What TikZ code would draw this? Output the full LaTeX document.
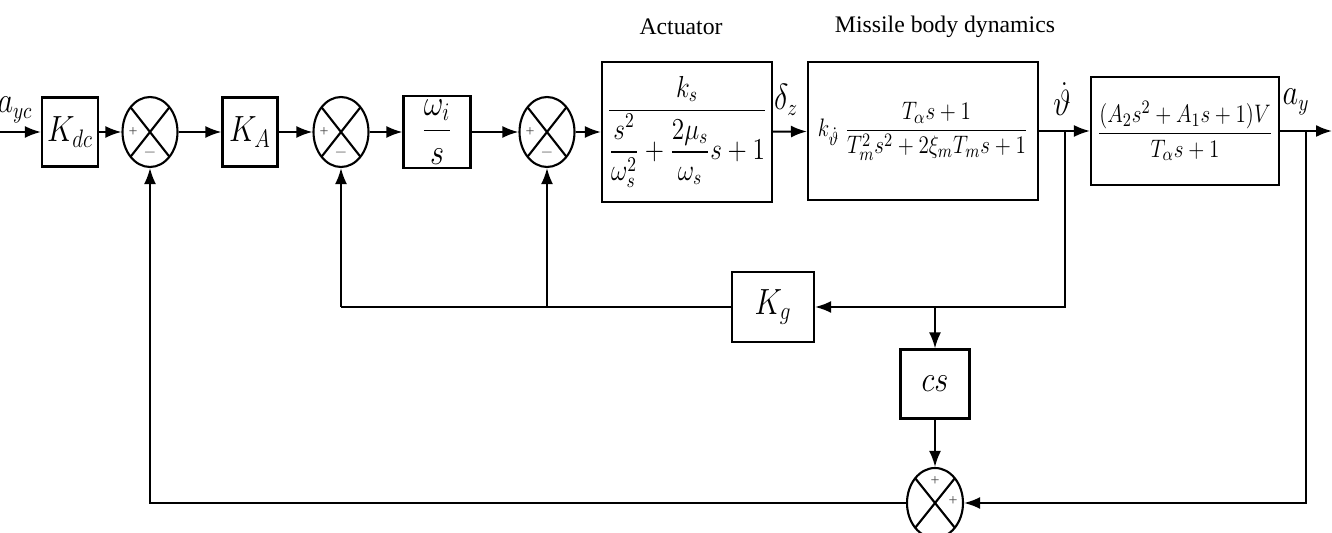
\documentclass[tikz,border=0pt]{standalone}
\usepackage{amsmath}
\usepackage{graphicx}
\usepackage{fontspec}
\setmainfont{Liberation Serif}
\usetikzlibrary{positioning,arrows.meta,shapes.geometric,calc}
\newcommand{\vstretch}[1]{\scalebox{1}[1.2]{$#1$}}
\tikzset{
  sigarrow/.style={-{Latex[length=3.2mm, width=2.4mm]}, line width=1.2pt},
  sigline/.style={line width=1.2pt},
  blockbox/.style={draw, line width=1.2pt, inner sep=0pt, align=center},
  sumnode/.style={draw, ellipse, line width=1.2pt, minimum width=1.1cm, minimum height=1.4cm, inner sep=0pt,
    path picture={\draw[line width=1.2pt] (path picture bounding box.north west) -- (path picture bounding box.south east)
      (path picture bounding box.north east) -- (path picture bounding box.south west);}},
  signlabel/.style={font=\small, text=black!70, inner sep=0pt},
  siglabel/.style={inner sep=1pt, font=\fontsize{16}{18}\selectfont},
  bigmath/.style={font=\fontsize{17}{19}\selectfont},
  headlabel/.style={font=\fontsize{13.5}{16}\selectfont}
}

\begin{document}
\begin{tikzpicture}[x=0.02cm, y=-0.02cm, every node/.style={font=\fontsize{13}{15}\selectfont}]
  \useasboundingbox (0,0) rectangle (1332,533);
  % forward path
  \coordinate (in) at (0,132);
  \node[blockbox, bigmath, minimum width=1.12cm, minimum height=1.38cm] (kdc) at (70,132) {\vstretch{K_{dc}}};
  \node[sumnode] (s1) at (150,132) {};
  \node[blockbox, bigmath, minimum width=1.1cm, minimum height=1.38cm] (ka) at (250,132) {\vstretch{K_A}};
  \node[sumnode] (s2) at (341,132) {};
  \node[blockbox, bigmath, minimum width=1.34cm, minimum height=1.44cm] (wi) at (437,132) {\vstretch{\dfrac{\omega_i}{s}}};
  \node[sumnode] (s3) at (547,132) {};
  \node[blockbox, font=\fontsize{14.5}{17}\selectfont, minimum width=3.4cm, minimum height=2.8cm] (act) at (687,132)
    {\vstretch{\dfrac{k_s}{\dfrac{s^2}{\omega_s^2}+\dfrac{2\mu_s}{\omega_s}s+1}}};
  \node[blockbox, font=\fontsize{13.2}{16}\selectfont, minimum width=4.6cm, minimum height=2.76cm] (body) at (923,131)
    {\vstretch{k_{\dot\vartheta}\;\dfrac{T_\alpha s+1}{T_m^2s^2+2\xi_mT_ms+1}}};
  \node[blockbox, font=\fontsize{13.2}{16}\selectfont, minimum width=3.76cm, minimum height=2.16cm] (out) at (1185,131)
    {\vstretch{\dfrac{(A_2s^2+A_1s+1)V}{T_\alpha s+1}}};
  \coordinate (outend) at (1332,131);
  % feedback blocks
  \node[blockbox, bigmath, minimum width=1.64cm, minimum height=1.4cm] (kg) at (773,307) {\vstretch{K_g}};
  \node[blockbox, bigmath, minimum width=1.38cm, minimum height=1.38cm] (cs) at (935,384) {\vstretch{cs}};
  \node[sumnode, minimum width=1.12cm, minimum height=1.4cm] (s4) at (935,503) {};
  % headings and signal names
  \node[headlabel] (acttitle) at (681,27) {Actuator};
  \node[headlabel] (bodytitle) at (945,27) {Missile body dynamics};
  \node[siglabel] (ayc) at (15,110) {\vstretch{a_{yc}}};
  \node[siglabel] (dz) at (786,100) {\vstretch{\delta_z}};
  \node[siglabel] (thd) at (1062,99) {\vstretch{\dot\vartheta}};
  \node[siglabel] (ay) at (1296,102) {\vstretch{a_y}};
  % signs
  \node[signlabel] (p1) at (133,132) {+};
  \node[signlabel] (m1) at (150,153) {$-$};
  \node[signlabel] (p2) at (324,132) {+};
  \node[signlabel] (m2) at (341,153) {$-$};
  \node[signlabel] (p3) at (530,132) {+};
  \node[signlabel] (m3) at (547,153) {$-$};
  \node[signlabel] (p4) at (935,481) {+};
  \node[signlabel] (p5) at (953,501) {+};
  % connections
  \coordinate (tb) at (1065,131);
  \coordinate (ab) at (1306,131);
  \draw[sigarrow] (in) -- (kdc);
  \draw[sigarrow] (kdc) -- (s1);
  \draw[sigarrow] (s1) -- (ka);
  \draw[sigarrow] (ka) -- (s2);
  \draw[sigarrow] (s2) -- (wi);
  \draw[sigarrow] (wi) -- (s3);
  \draw[sigarrow] (s3) -- (act);
  \draw[sigarrow] (act) -- (body);
  \draw[sigarrow] (body) -- (out);
  \draw[sigarrow] (out) -- (outend);
  \draw[sigarrow] (tb) |- (kg);
  \draw[sigline] (kg.west) -- (s2 |- kg.west) coordinate (kgl);
  \draw[sigarrow] (kgl) -- (s2);
  \draw[sigarrow] (s3 |- kg.west) -- (s3);
  \draw[sigarrow] (cs |- kg.east) -- (cs);
  \draw[sigarrow] (cs) -- (s4);
  \draw[sigarrow] (ab) |- (s4);
  \draw[sigarrow] (s4) -| (s1);
\end{tikzpicture}
\end{document}
